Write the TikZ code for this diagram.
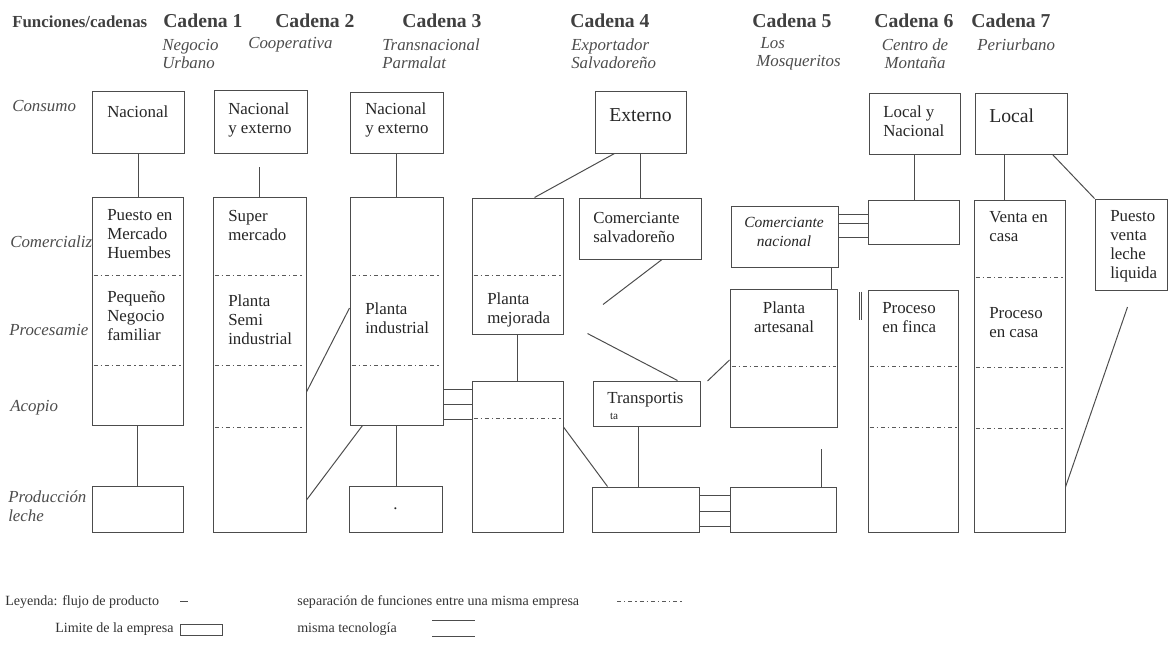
\documentclass[tikz,border=0pt]{standalone}
\usepackage{fontspec}
\setmainfont{Liberation Serif}
\usetikzlibrary{fit,calc}

\tikzset{
  caja/.style={draw=black!70, line width=0.7pt, inner sep=0pt},
  flujo/.style={draw=black!70, line width=0.7pt},
  sep/.style={draw=black!65, line width=0.6pt, dash pattern=on 3pt off 2pt on 1pt off 2pt},
  txt/.style={anchor=west, inner sep=0pt, align=left, text=black!85,
    font=\fontsize{12}{13.5}\selectfont},
  fila/.style={anchor=west, inner sep=0pt, align=left, text=black!70,
    font=\fontsize{12}{13.5}\selectfont\itshape},
  cadena/.style={anchor=west, inner sep=0pt, text=black!75,
    font=\fontsize{14}{16}\selectfont\bfseries},
  sub/.style={anchor=west, inner sep=0pt, align=left, text=black!70,
    font=\fontsize{12}{13}\selectfont\itshape},
  ley/.style={anchor=west, inner sep=0pt, text=black!80,
    font=\fontsize{10}{12}\selectfont}
}

\begin{document}
\begin{tikzpicture}[x=0.025cm, y=-0.025cm]
\useasboundingbox (0,0) rectangle (1170,659);

% encabezados
\node[anchor=west, inner sep=0pt, text=black!75, font=\fontsize{12}{14}\selectfont\bfseries] (func) at (12,22) {Funciones/cadenas};
\node[cadena] (cad1) at (163,21) {Cadena 1};
\node[cadena] (cad2) at (275,21) {Cadena 2};
\node[cadena] (cad3) at (402,21) {Cadena 3};
\node[cadena] (cad4) at (570,21) {Cadena 4};
\node[cadena] (cad5) at (752,21) {Cadena 5};
\node[cadena] (cad6) at (874,21) {Cadena 6};
\node[cadena] (cad7) at (971,21) {Cadena 7};
\node[sub] (sub1) at (162,54) {Negocio\\Urbano};
\node[sub] (sub2) at (248,45) {Cooperativa};
\node[sub] (sub3) at (382,54) {Transnacional\\Parmalat};
\node[sub] (sub4) at (571,54) {Exportador\\Salvadoreño};
\node[sub] (sub5) at (756,54) {\hspace*{3pt}Los\\Mosqueritos};
\node[sub, anchor=center, align=center] (sub6) at (915,54) {Centro de\\Montaña};
\node[sub] (sub7) at (977,45) {Periurbano};

% funciones
\node[fila] (consumo) at (12,106) {Consumo};
\node[fila] (comerc) at (10,242) {Comercializ};
\node[fila] (proces) at (9,330) {Procesamie};
\node[fila] (acopio) at (10,408) {Acopio};
\node[fila] (produc) at (8,506) {Producción\\leche};

% empresas
\node[caja, fit={(92,91) (184,153)}] (nac1) {};
\node[caja, fit={(214,90) (307,153)}] (nac2) {};
\node[caja, fit={(350,92) (443,153)}] (nac3) {};
\node[caja, fit={(595,91) (686,153)}] (ext) {};
\node[caja, fit={(869,93) (960,154)}] (locnac) {};
\node[caja, fit={(975,93) (1067,154)}] (loc) {};
\node[caja, fit={(92,197) (183,425)}] (col1) {};
\node[caja, fit={(213,197) (306,532)}] (col2) {};
\node[caja, fit={(350,197) (443,425)}] (col3) {};
\node[caja, fit={(472,198) (563,334)}] (col4a) {};
\node[caja, fit={(472,381) (563,532)}] (col4b) {};
\node[caja, fit={(579,198) (701,259)}] (comsal) {};
\node[caja, fit={(593,381) (700,426)}] (trans) {};
\node[caja, fit={(731,206) (838,267)}] (comnac) {};
\node[caja, fit={(730,289) (837,427)}] (artes) {};
\node[caja, fit={(868,200) (959,244)}] (c6top) {};
\node[caja, fit={(868,290) (958,532)}] (col6) {};
\node[caja, fit={(974,200) (1065,532)}] (col7) {};
\node[caja, fit={(1095,199) (1167,290)}] (puesto) {};
\node[caja, fit={(92,486) (183,532)}] (prod1) {};
\node[caja, fit={(349,486) (442,532)}] (prod3) {};
\node[caja, fit={(592,487) (699,532)}] (prod4) {};
\node[caja, fit={(730,487) (836,532)}] (prod5) {};

\foreach \n/\yy in {col1/275, col1/365, col2/275, col2/365, col2/427, col3/275, col3/365,
  col4a/275, col4b/418, artes/366, col6/366, col6/427, col7/277, col7/367, col7/428}
  \draw[sep] ($(\n.west |- 0,\yy)+(2,0)$) -- ($(\n.east |- 0,\yy)+(-2,0)$);

% textos
\node[txt] (tnac1) at (107,112) {Nacional};
\node[txt] (tnac2) at (228,120) {Nacional\\y externo};
\node[txt] (tnac3) at (365,120) {Nacional\\y externo};
\node[txt, anchor=center, font=\fontsize{14}{16}\selectfont] (text) at (ext.center |- 0,115) {Externo};
\node[txt] (tlocnac) at (883,121) {Local y\\Nacional};
\node[txt, font=\fontsize{14}{16}\selectfont] (tloc) at (989,116) {Local};
\node[txt] (tpuesto1) at (107,234) {Puesto en\\Mercado\\Huembes};
\node[txt] (tpeq) at (107,316) {Pequeño\\Negocio\\familiar};
\node[txt] (tsuper) at (228,225) {Super\\mercado};
\node[txt] (tsemi) at (228,320) {Planta\\Semi\\industrial};
\node[txt] (tind) at (365,318) {Planta\\industrial};
\node[txt] (tmej) at (487,310) {Planta\\mejorada};
\node[txt] (tcomsal) at (593,227) {Comerciante\\salvadoreño};
\node[txt] (ttrans) at (607,406) {Transportis\\[-2pt]{\fontsize{8}{9}\selectfont\ ta}};
\node[txt, anchor=center, align=center, font=\fontsize{11}{13.5}\selectfont\itshape] (tcomnac) at (784,232) {Comerciante\\nacional};
\node[txt, anchor=center, align=center] (tartes) at (784,317) {Planta\\artesanal};
\node[txt] (tfinca) at (882,318) {Proceso\\en finca};
\node[txt] (tventa) at (989,227) {Venta en\\casa};
\node[txt] (tcasa) at (989,323) {Proceso\\en casa};
\node[txt] (tleche) at (1110,246) {Puesto\\venta\\leche\\liquida};
\node[txt, anchor=center] (tpunto) at (prod3.center) {.};

% flujos
\draw[flujo] (nac1.south) -- (nac1.south |- col1.north);
\draw[flujo] (col1.south) -- (col1.south |- prod1.north);
\draw[flujo] (col2.north) -- ++(0,-30);
\draw[flujo] (nac3.south) -- (nac3.south |- col3.north);
\draw[flujo] (col3.south) -- (col3.south |- prod3.north);
\draw[flujo] (col2.east |- 0,392) -- (col3.west |- 0,308);
\draw[flujo] ($(col3.south west)+(13,0)$) -- (col2.east |- 0,500);
\foreach \yy in {389,404,419}
  \draw[flujo] (col3.east |- 0,\yy) -- (col4b.west |- 0,\yy);
\draw[flujo] ($(ext.south west)+(20,0)$) -- ($(col4a.north west)+(63,0)$);
\draw[flujo] (ext.south) -- (ext.south |- comsal.north);
\draw[flujo] (col4a.south) -- (col4a.south |- col4b.north);
\draw[flujo] ($(comsal.south)+(22,0)$) -- ++(-59,45);
\draw[flujo] ($(trans.north)+(31,0)$) -- ++(-90,-47);
\draw[flujo] (col4b.east |- 0,427) -- ($(prod4.north west)+(16,0)$);
\draw[flujo] (trans.south -| 638,0) -- (prod4.north -| 638,0);
\foreach \yy in {495,511,526}
  \draw[flujo] (prod4.east |- 0,\yy) -- (prod5.west |- 0,\yy);
\draw[flujo] (artes.west |- 0,360) -- ++(-22,21);
\draw[flujo] (prod5.north -| 821,0) -- ++(0,-38);
\draw[flujo] (comnac.south -| 831,0) -- (artes.north -| 831,0);
\foreach \yy in {214,223,237}
  \draw[flujo] (comnac.east |- 0,\yy) -- (c6top.west |- 0,\yy);
\draw[flujo] (locnac.south) -- (locnac.south |- c6top.north);
\draw[flujo, double, double distance=0.7pt] ($(col6.north west)+(-7,2)$) -- ++(0,28);
\draw[flujo] (loc.south -| 1004,0) -- (col7.north -| 1004,0);
\draw[flujo] ($(loc.south east)+(-15,0)$) -- (puesto.north west);
\draw[flujo] (col7.east |- 0,487) -- ++(62,-180);

% leyenda
\node[ley] (leyenda) at (5,602) {Leyenda:};
\node[ley] (lflujo) at (62,602) {flujo de producto};
\draw[flujo] (180,601) -- (188,601);
\node[ley] (lsep) at (297,602) {separación de funciones entre una misma empresa};
\draw[sep] (617,601) -- (683,601);
\node[ley] (llim) at (55,629) {Limite de la empresa};
\node[caja, fit={(180,624) (222,635)}] (lcaja) {};
\node[ley] (lmisma) at (297,629) {misma tecnología};
\draw[flujo] (432,620) -- (475,620);
\draw[flujo] (432,636) -- (475,636);
\end{tikzpicture}
\end{document}
